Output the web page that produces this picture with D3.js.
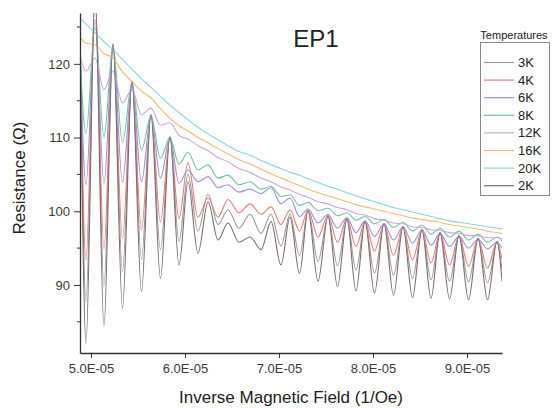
<!DOCTYPE html>
<html>
<head>
<meta charset="utf-8">
<script src="https://cdn.jsdelivr.net/npm/d3@7"></script>
<style>
  body { margin: 0; background: #fff; }
  text { font-family: "Liberation Sans", Arial, sans-serif; }
</style>
</head>
<body>
<svg id="chart"></svg>
<script>
var width = 552;
var height = 408;
var margin = {top: 13, right: 50, bottom: 55, left: 80};

// extrema positions along the inverse field axis (1/Oe)
var fieldInv = [4.883e-5, 4.947e-5, 5.043e-5, 5.138e-5, 5.234e-5, 5.335e-5, 5.436e-5, 5.537e-5,
  5.638e-5, 5.739e-5, 5.840e-5, 5.936e-5, 6.032e-5, 6.138e-5, 6.245e-5, 6.351e-5, 6.457e-5,
  6.574e-5, 6.691e-5, 6.809e-5, 6.915e-5, 7.021e-5, 7.117e-5, 7.218e-5, 7.309e-5, 7.415e-5,
  7.521e-5, 7.622e-5, 7.723e-5, 7.819e-5, 7.915e-5, 8.016e-5, 8.117e-5, 8.218e-5, 8.319e-5,
  8.420e-5, 8.521e-5, 8.617e-5, 8.713e-5, 8.814e-5, 8.915e-5, 9.016e-5, 9.117e-5, 9.218e-5,
  9.319e-5, 9.372e-5];

// resistance (Ohm) at those positions
var r3K = [125, 87.7, 129, 89.8, 122.7, 91.8, 117.6, 93.5, 113.1, 94.8, 110.0, 95.9, 105.0, 97.3, 102.3,
  98.2, 100.2, 97.7, 99.6, 97.0, 99.6, 95.3, 99.6, 94.0, 100.1, 93.2, 99.3, 92.6, 98.9, 92.0, 98.5,
  91.6, 98.2, 91.3, 97.8, 90.9, 97.4, 90.7, 97.0, 90.5, 96.6, 90.4, 96.2, 90.3, 95.8, 92.0];
var r4K = [124.5, 93.4, 129, 94.9, 122.7, 96.3, 117.6, 97.5, 113.1, 98.6, 110.1, 99.0, 106.6, 99.2, 101.8,
  99.2, 101.6, 99.8, 101.0, 99.6, 100.6, 98.2, 100.2, 97.3, 100.2, 96.5, 99.5, 95.8, 99.0, 95.2, 98.6,
  94.6, 98.3, 94.0, 97.9, 93.4, 97.5, 93.0, 97.1, 92.7, 96.7, 92.5, 96.3, 92.3, 95.9, 93.5];
var r6K = [122, 103.6, 126, 103.8, 122.5, 103.9, 117.5, 104.0, 113.0, 104.5, 110.0, 103.8, 105.6, 104.0, 104.7,
  103.2, 103.6, 102.6, 103.0, 102.4, 103.2, 101.0, 101.8, 99.3, 100.3, 98.4, 99.6, 97.7, 99.1, 97.1, 98.7,
  96.6, 98.3, 96.1, 97.9, 95.7, 97.5, 95.4, 97.0, 95.2, 96.6, 95.0, 96.2, 94.9, 95.8, 95.0];
var r8K = [121, 110.6, 125, 110.1, 122.5, 109.3, 117.5, 108.3, 113.0, 107.2, 110.0, 106.4, 108.0, 105.6, 106.3,
  104.5, 104.9, 103.6, 104.0, 103.0, 103.4, 102.0, 102.2, 100.8, 101.2, 100.1, 100.4, 99.4, 99.8, 98.8, 99.3,
  98.3, 98.9, 97.8, 98.5, 97.3, 98.1, 96.9, 97.7, 96.5, 97.3, 96.1, 96.9, 95.8, 96.5, 96.0];
var r12K = [121, 119.0, 120.8, 116.5, 119.0, 114.7, 116.5, 113.1, 114.0, 111.7, 112.0, 110.3, 109.8, 108.9, 108.2,
  107.3, 106.7, 105.8, 105.3, 104.5, 104.0, 103.3, 102.9, 102.3, 101.9, 101.3, 101.0, 100.5, 100.2, 99.7, 99.5,
  99.0, 98.8, 98.4, 98.3, 97.9, 97.8, 97.5, 97.4, 97.1, 97.0, 96.7, 96.7, 96.4, 96.4, 96.3];
var r16K = [123.6, 122.8, 122.6, 121.4, 120.8, 118.9, 117.6, 116.3, 115.4, 113.9, 112.6, 111.6, 110.9, 110.0, 109.3,
  108.5, 107.8, 107.0, 106.4, 105.7, 105.1, 104.5, 104.0, 103.5, 103.0, 102.5, 102.1, 101.7, 101.3, 100.9, 100.6,
  100.3, 100.0, 99.7, 99.4, 99.1, 98.9, 98.7, 98.5, 98.2, 98.0, 97.8, 97.6, 97.3, 97.1, 97.0];
var r20K = [126.2, 125.4, 124.2, 123.0, 121.9, 120.6, 119.3, 118.0, 116.8, 115.6, 114.4, 113.4, 112.4, 111.4, 110.5,
  109.7, 108.9, 108.1, 107.6, 106.9, 106.3, 105.8, 105.3, 104.9, 104.4, 103.9, 103.4, 103.0, 102.5, 102.1, 101.7,
  101.3, 100.9, 100.5, 100.2, 99.9, 99.6, 99.3, 99.0, 98.7, 98.5, 98.3, 98.1, 97.9, 97.7, 97.6];
var r2K = [125, 82.1, 129, 84.4, 122.7, 86.8, 117.6, 89.1, 113.1, 90.9, 110.1, 92.7, 104.0, 94.3, 101.3,
  96.1, 98.4, 95.8, 96.5, 94.8, 98.6, 92.7, 99.2, 91.6, 100.0, 90.5, 99.3, 89.8, 98.9, 89.2, 98.6,
  88.9, 98.3, 88.6, 97.9, 88.3, 97.5, 88.2, 97.1, 88.1, 96.7, 88.0, 96.3, 88.0, 95.9, 90.5];

var tempLabels = ['3K', '4K', '6K', '8K', '12K', '16K', '20K', '2K'];
var tempValues = [r3K, r4K, r6K, r8K, r12K, r16K, r20K, r2K];
var tempColors = ['#9a9a9a', '#e47f7c', '#9593d6', '#72c39e', '#cda6dc', '#f1bd72', '#8ad6de', '#7e6a74'];

var xTicks = [5e-5, 6e-5, 7e-5, 8e-5, 9e-5];
var yTicks = [90, 100, 110, 120];
var yMinorTicks = [85, 95, 105, 115, 125];

var w = width - margin.left - margin.right;
var h = height - margin.top - margin.bottom;

var svg = d3.select('#chart')
  .attr('width', width)
  .attr('height', height);

var g = svg.append('g')
  .attr('transform', 'translate(' + margin.left + ',' + margin.top + ')');

var x = d3.scaleLinear().domain([4.883e-5, 9.372e-5]).range([0, w]);
var y = d3.scaleLinear().domain([80.77, 126.9]).range([h, 0]);

g.append('clipPath').attr('id', 'plot-clip')
  .append('rect').attr('width', w).attr('height', h);

var series = tempLabels.map(function(t, i) {
  return {
    name: t,
    color: tempColors[i],
    values: fieldInv.map(function(f, j) { return {x: f, r: tempValues[i][j]}; })
  };
});

var line = d3.line()
  .x(function(d) { return x(d.x); })
  .y(function(d) { return y(d.r); })
  .curve(d3.curveMonotoneX);

g.append('g')
  .attr('clip-path', 'url(#plot-clip)')
  .selectAll('path')
  .data(series)
  .enter().append('path')
    .attr('fill', 'none')
    .attr('stroke', function(d) { return d.color; })
    .attr('stroke-width', 1.1)
    .attr('d', function(d) { return line(d.values); });

// axes
var xAxis = g.append('g')
  .attr('transform', 'translate(0,' + h + ')')
  .call(d3.axisBottom(x).tickValues(xTicks).tickSize(5).tickSizeOuter(0).tickPadding(6)
    .tickFormat(function(d) { return (d * 1e5).toFixed(1) + 'E-05'; }));

var yAxis = g.append('g')
  .call(d3.axisLeft(y).tickValues(yTicks).tickSize(6).tickSizeOuter(0).tickPadding(4));

yAxis.selectAll('.minor')
  .data(yMinorTicks)
  .enter().append('line')
    .attr('class', 'minor')
    .attr('x1', -3).attr('x2', 0)
    .attr('y1', function(d) { return y(d); })
    .attr('y2', function(d) { return y(d); })
    .attr('stroke', '#333');

[xAxis, yAxis].forEach(function(a) {
  a.select('.domain').attr('stroke', '#333').attr('stroke-width', 1.3);
  a.selectAll('.tick line').attr('stroke', '#333');
  a.selectAll('.tick text').attr('font-size', 13).attr('fill', '#3a3a3a')
    .style('font-family', '"Liberation Sans", Arial, sans-serif');
});

// axis titles
svg.append('text')
  .attr('x', margin.left + x(7e-5) + 12)
  .attr('y', 403)
  .attr('text-anchor', 'middle')
  .attr('font-size', 17)
  .attr('fill', '#222')
  .text('Inverse Magnetic Field (1/Oe)');

svg.append('text')
  .attr('transform', 'translate(25,178) rotate(-90)')
  .attr('text-anchor', 'middle')
  .attr('font-size', 17)
  .attr('fill', '#222')
  .text('Resistance (Ω)');

// title
svg.append('text')
  .attr('x', 316)
  .attr('y', 47)
  .attr('text-anchor', 'middle')
  .attr('font-size', 24)
  .attr('fill', '#222')
  .text('EP1');

// legend
var legend = svg.append('g');

legend.append('text')
  .attr('x', 514)
  .attr('y', 39)
  .attr('text-anchor', 'middle')
  .attr('font-size', 11)
  .attr('fill', '#222')
  .text('Temperatures');

legend.append('rect')
  .attr('x', 480.5).attr('y', 42.5)
  .attr('width', 69).attr('height', 153)
  .attr('fill', '#fff')
  .attr('stroke', '#888');

var item = legend.selectAll('.item')
  .data(series)
  .enter().append('g')
    .attr('class', 'item')
    .attr('transform', function(d, i) { return 'translate(0,' + (62.5 + i * 17.6) + ')'; });

item.append('line')
  .attr('x1', 484).attr('x2', 514)
  .attr('stroke', function(d) { return d.color; })
  .attr('stroke-width', 1.2);

item.append('text')
  .attr('x', 518)
  .attr('dy', '0.35em')
  .attr('font-size', 13)
  .attr('fill', '#222')
  .text(function(d) { return d.name; });
</script>
</body>
</html>
